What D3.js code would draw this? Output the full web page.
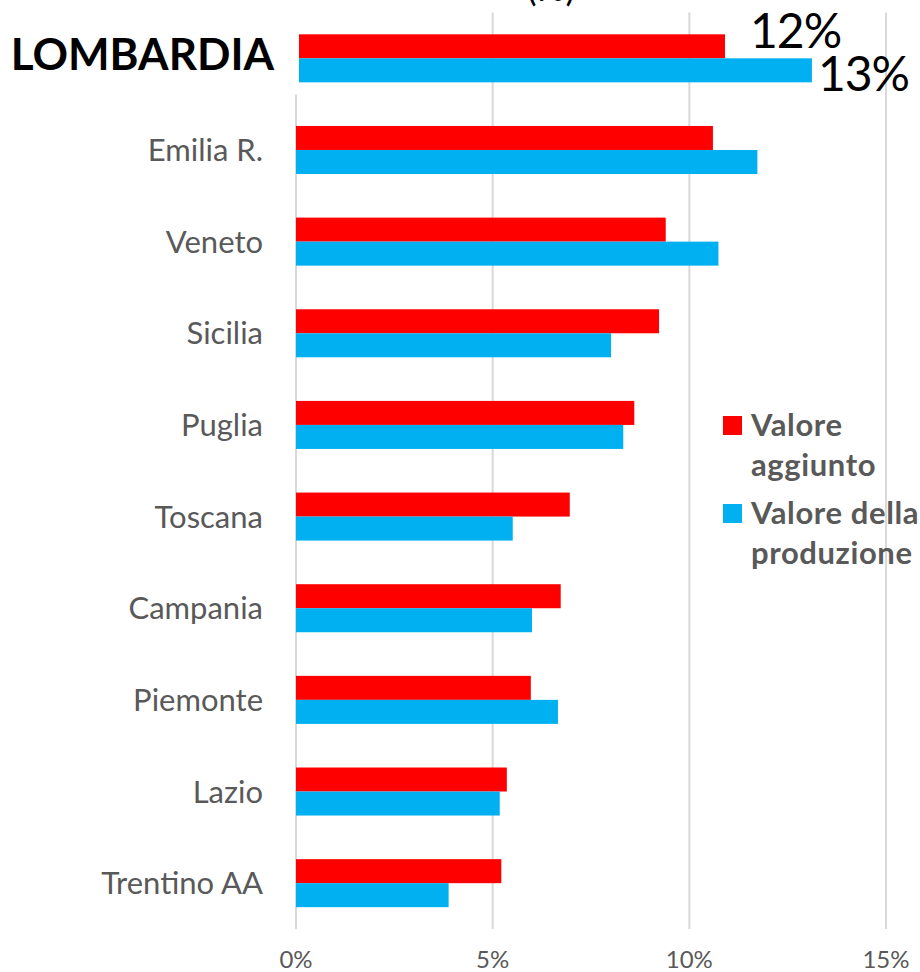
<!DOCTYPE html>
<html>
<head>
<meta charset="utf-8">
<script src="https://cdn.jsdelivr.net/npm/d3@7"></script>
<style>
  body { margin: 0; background: #fff; }
  svg { display: block; font-family: Lato, "Open Sans", sans-serif; }
</style>
</head>
<body>
<div id="display"></div>
<script>
const regions = ['Lombardia', 'Emilia R.', 'Veneto', 'Sicilia', 'Puglia', 'Toscana',
                 'Campania', 'Piemonte', 'Lazio', 'Trentino AA']
const valoreAggiunto = [10.83, 10.6, 9.4, 9.23, 8.6, 6.96, 6.73, 5.97, 5.36, 5.22]
const valoreProduzione = [13.04, 11.73, 10.74, 8.01, 8.32, 5.51, 6.0, 6.66, 5.18, 3.88]
const seriesNames = ['Valore aggiunto', 'Valore della produzione']
const seriesColors = ['#ff0000', '#00b0f0']
const ticks = [0, 5, 10, 15]
const lombardiaLabels = ['12%', '13%']

const width = 920, height = 972
const margin = {top: 12.5, right: 34, bottom: 43, left: 296}

const svg = d3.select('#display').append('svg')
    .attr('width', width)
    .attr('height', height)

const x = d3.scaleLinear()
    .domain([0, 15])
    .range([margin.left, width - margin.right])

const y = d3.scaleBand()
    .domain(regions)
    .range([margin.top, height - margin.bottom])
    .paddingInner(0.476)
    .paddingOuter(0.238)

const ySub = d3.scaleBand()
    .domain(seriesNames)
    .range([0, y.bandwidth()])

// gridlines
svg.append('g')
    .selectAll('line').data(ticks)
    .enter().append('line')
        .attr('x1', d => x(d)).attr('x2', d => x(d))
        .attr('y1', margin.top).attr('y2', height - margin.bottom)
        .attr('stroke', '#d9d9d9')
        .attr('stroke-width', 2)

// tick labels
svg.append('g')
    .selectAll('text').data(ticks)
    .enter().append('text')
        .attr('x', d => x(d))
        .attr('y', 968)
        .attr('text-anchor', 'middle')
        .style('font-size', '24px')
        .attr('fill', '#595959')
        .text(d => d + '%')

// cropped title remainder (the reference is cut at the top edge)
svg.append('text')
    .attr('x', 551)
    .attr('y', 1)
    .attr('text-anchor', 'middle')
    .style('font-size', '36px')
    .attr('fill', '#000')
    .text('(%)')

const rows = regions.map((r, i) => ({region: r, vals: [valoreAggiunto[i], valoreProduzione[i]]}))

// normal rows
const others = rows.slice(1)
const g = svg.append('g')
others.forEach(row => {
    g.selectAll(null).data(row.vals)
        .enter().append('rect')
            .attr('x', x(0))
            .attr('y', (d, j) => y(row.region) + ySub(seriesNames[j]))
            .attr('width', d => x(d) - x(0))
            .attr('height', ySub.bandwidth())
            .attr('fill', (d, j) => seriesColors[j])
})

g.selectAll('.cat').data(others)
    .enter().append('text')
        .attr('x', 263)
        .attr('y', d => y(d.region) + y.bandwidth() / 2 + 11)
        .attr('text-anchor', 'end')
        .style('font-size', '31px')
        .attr('fill', '#595959')
        .text(d => d.region)

// Lombardia highlight (pasted over the chart)
const lomb = rows[0]
svg.append('rect')
    .attr('x', 0).attr('y', 0)
    .attr('width', x(0) + 4)
    .attr('height', y(lomb.region) + y.bandwidth() + 12)
    .attr('fill', '#fff')

const lg = svg.append('g').attr('transform', 'translate(3,0)')
lg.selectAll('rect').data(lomb.vals)
    .enter().append('rect')
        .attr('x', x(0))
        .attr('y', (d, j) => y(lomb.region) + ySub(seriesNames[j]))
        .attr('width', d => x(d) - x(0))
        .attr('height', ySub.bandwidth())
        .attr('fill', (d, j) => seriesColors[j])

svg.append('text')
    .attr('x', 274)
    .attr('y', 70)
    .attr('text-anchor', 'end')
    .style('font-size', '44px')
    .style('font-weight', 'bold')
    .attr('fill', '#000')
    .text('LOMBARDIA')

const labelDx = [25, 6]
const labelDy = [-10, 9]
lg.selectAll('.lbl').data(lombardiaLabels)
    .enter().append('text')
        .attr('x', (d, j) => x(lomb.vals[j]) + labelDx[j])
        .attr('y', (d, j) => y(lomb.region) + ySub(seriesNames[j]) + ySub.bandwidth() + labelDy[j])
        .style('font-size', '48px')
        .style('letter-spacing', '-1px')
        .attr('fill', '#000')
        .text(d => d)

// legend
const legendLines = [['Valore', 'aggiunto'], ['Valore della', 'produzione']]
const legend = svg.append('g')
legendLines.forEach((lines, i) => {
    const y0 = 436 + i * 88
    legend.append('rect')
        .attr('x', 723).attr('y', y0 - 20)
        .attr('width', 19).attr('height', 19)
        .attr('fill', seriesColors[i])
    lines.forEach((t, k) => {
        legend.append('text')
            .attr('x', 751)
            .attr('y', y0 + k * 40)
            .style('font-size', '31px')
            .style('font-weight', 'bold')
            .style('letter-spacing', '0.6px')
            .attr('fill', '#595959')
            .text(t)
    })
})
</script>
</body>
</html>
